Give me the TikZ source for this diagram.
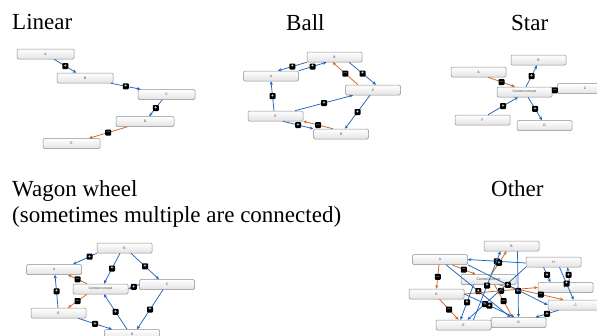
\documentclass[tikz,border=0pt]{standalone}
\usepackage{fontspec}
\setmainfont{Liberation Serif}
\newfontfamily\headfont{Liberation Serif}
\newfontfamily\boxfont{Liberation Sans}
\usetikzlibrary{arrows.meta}
\definecolor{linkblue}{RGB}{30,100,190}
\definecolor{linkorange}{RGB}{205,100,35}
\definecolor{boxedge}{RGB}{140,140,140}
\tikzset{
  concept/.style={draw=boxedge, line width=0.5pt, rounded corners=1.2pt,
    top color=white, bottom color=gray!22, minimum height=10pt,
    minimum width=55pt, inner sep=0pt, text=gray!50!black,
    font=\boxfont\fontsize{3.4}{3.6}\selectfont},
  bw/.style={minimum width=#1},
  bh/.style={minimum height=#1},
  link/.style={line width=0.75pt, -{Stealth[length=3.6pt,width=3.2pt]}},
  poslink/.style={link, draw=linkblue},
  neglink/.style={link, draw=linkorange},
  sign/.style={fill=black, rounded corners=0.9pt, minimum size=6pt,
    inner sep=0pt, text=white, font=\boxfont\bfseries\fontsize{5}{5}\selectfont},
  heading/.style={anchor=base west, inner sep=0pt,
    font=\headfont\fontsize{23}{27}\selectfont}
}
\begin{document}
\begin{tikzpicture}[x=1pt,y=-1pt]
\useasboundingbox (0,0) rectangle (597,335);

% ---------- headings ----------
\node[heading] (tLinear) at (12,29.5) {Linear};
\node[heading] (tBall) at (286,30) {Ball};
\node[heading] (tStar) at (511,30) {Star};
\node[heading] (tWagon) at (12,196) {Wagon wheel};
\node[heading] (tWagon2) at (12,222.5) {(sometimes multiple are connected)};
\node[heading] (tOther) at (491,196) {Other};

% ---------- Linear ----------
\begin{scope}[every node/.append style={bh=10.5pt}]
\node[concept, bw=57pt] (lA) at (45.5,54) {A};
\node[concept, bw=56pt] (lB) at (85,78) {B};
\node[concept, bw=57pt] (lC) at (166.5,94.5) {C};
\node[concept, bw=58pt] (lD) at (145,121.5) {D};
\node[concept, bw=57pt] (lE) at (71.5,143.5) {E};
\end{scope}
\draw[poslink] (lA) -- node[sign]{+} (lB);
\draw[poslink] (lB) -- node[sign]{+} (lC);
\draw[poslink] (lC) -- node[sign]{+} (lD);
\draw[neglink] (lD) -- node[sign]{$-$} (lE);

% ---------- Ball ----------
\node[concept] (bB) at (334.5,57) {B};
\node[concept] (bA) at (271,76) {A};
\node[concept] (bC) at (373,90) {C};
\node[concept] (bE) at (275.5,116) {E};
\node[concept] (bD) at (341,134) {D};
\draw[poslink] (bB.south west) -- node[sign]{+} ([xshift=7pt]bA.north);
\draw[poslink] (bA.north east) -- node[sign]{+} ([xshift=-8pt]bB.south);
\draw[neglink] ([xshift=-15pt]bC.north) -- node[sign]{$-$} ([xshift=-2pt]bB.south);
\draw[poslink] ([xshift=14.5pt]bB.south) -- node[sign]{+} ([xshift=3pt]bC.north);
\draw[poslink] ([xshift=-1.5pt]bE.north) -- node[sign]{+} (bA.south);
\draw[poslink] ([xshift=19.5pt]bE.north) -- node[sign]{+} ([xshift=-20pt]bC.south);
\draw[poslink] ([xshift=-3pt]bC.south) -- node[sign]{+} ([xshift=4pt]bD.north);
\draw[poslink] ([xshift=7.5pt]bE.south) -- node[sign]{+} (bD.north west);
\draw[neglink] ([xshift=-8pt]bD.north) -- node[sign]{$-$} (bE.south east);

% ---------- Star ----------
\begin{scope}[every node/.append style={bh=8pt, bw=45pt}]
\node[concept] (sB) at (538.5,60) {B};
\node[concept] (sA) at (478.5,72) {A};
\node[concept] (sCC) at (524.5,92) {Central concept};
\node[concept] (sC) at (585,88.5) {C};
\node[concept] (sF) at (482.5,120) {F};
\node[concept] (sD) at (544.5,125.5) {D};
\end{scope}
\draw[neglink] ([xshift=9.5pt]sA.south) -- node[sign]{$-$} ([xshift=-9.5pt]sCC.north);
\draw[poslink] ([xshift=1.5pt]sCC.north) -- node[sign]{+} ([xshift=-1.5pt]sB.south);
\draw[neglink] (sCC.east) -- node[sign]{$-$} (sC.west);
\draw[poslink] ([xshift=5.5pt]sF.north) -- node[sign]{+} ([xshift=-6.5pt]sCC.south);
\draw[poslink] ([xshift=3.5pt]sCC.south) -- node[sign]{+} ([xshift=-2.5pt]sD.north);

% ---------- Wagon wheel ----------
\begin{scope}[every node/.append style={bh=10.5pt, bw=59.5pt}]
\node[concept] (wB) at (124.5,248) {B};
\node[concept] (wA) at (54,269.5) {A};
\node[concept] (wCC) at (100.5,289) {Central concept};
\node[concept] (wC) at (167,284.5) {C};
\node[concept] (wE) at (58.5,313) {E};
\node[concept] (wD) at (132,334.5) {D};
\end{scope}
\draw[poslink] (wB.south west) -- node[sign, pos=0.3]{+} ([xshift=19pt]wA.north);
\draw[poslink] ([xshift=-4.5pt]wB.south) -- node[sign]{+} ([xshift=3.5pt]wCC.north);
\draw[poslink] ([xshift=6.5pt]wB.south) -- node[sign]{+} ([xshift=-8pt]wC.north);
\draw[neglink] ([xshift=-13.5pt]wCC.north) -- node[sign]{$-$} ([xshift=14pt]wA.south);
\draw[poslink] (wC.west) -- node[sign]{+} (wCC.east);
\draw[neglink] ([xshift=-13.5pt]wCC.south) -- node[sign]{$-$} ([xshift=9.5pt]wE.north);
\draw[poslink] ([xshift=-0.5pt]wE.north) -- node[sign]{+} ([xshift=1pt]wA.south);
\draw[poslink] ([xshift=-5pt]wD.north) -- node[sign]{+} ([xshift=3.5pt]wCC.south);
\draw[poslink] ([xshift=-4pt]wC.south) -- node[sign]{+} ([xshift=5pt]wD.north);
\draw[poslink] ([xshift=19.5pt]wE.south) -- node[sign]{+} ([xshift=-20pt]wD.north);

% ---------- Other ----------
\begin{scope}[every node/.append style={bh=9.5pt, bw=53pt}]
\node[concept] (oB) at (511.5,246) {B};
\node[concept] (oA) at (440,259.5) {A};
\node[concept] (oH) at (553.5,262) {H};
\node[concept] (oCC) at (488.5,279.5) {Central concept};
\node[concept] (oF) at (565.5,287.5) {F};
\node[concept] (oG) at (436.5,294) {G};
\node[concept] (oC) at (575.5,305) {C};
\node[concept] (oD) at (518.5,322.5) {D};
\node[concept] (oE) at (463.5,325) {E};
\end{scope}
\draw[poslink] ([yshift=-1pt]oH.west) -- node[sign]{+} (oA.east);
\draw[neglink] ([xshift=3pt]oCC.north) -- node[sign]{+} ([xshift=-5pt]oB.south);
\draw[neglink] ([xshift=-1pt]oA.south) -- node[sign]{$-$} (oG.north);
\draw[neglink] ([xshift=12pt]oA.south) -- node[sign]{$-$} ([xshift=-13pt]oCC.north);
\draw[poslink] ([xshift=6pt]oA.south) -- node[sign]{+} ([xshift=-8pt]oD.north);
\draw[neglink] ([xshift=3pt]oG.south) -- node[sign]{$-$} ([xshift=-5pt]oE.north);
\draw[neglink] (oG.east) -- node[sign]{$-$} (oF.west);
\draw[neglink] ([xshift=10pt]oCC.south) -- node[sign, pos=0.65]{$-$} ([xshift=-12pt]oC.north);
\draw[neglink] ([xshift=6pt]oCC.south) -- node[sign]{$-$} ([xshift=-6pt]oD.north);
\draw[poslink] ([xshift=6pt]oB.south) -- node[sign, pos=0.6]{+} (oD.north);
\draw[poslink] ([xshift=-10pt]oH.south) -- node[sign]{+} ([xshift=-15pt]oF.north);
\draw[poslink] ([xshift=4pt]oF.north) -- node[sign]{+} ([xshift=14pt]oH.south);
\draw[poslink] ([xshift=6pt]oH.south) -- node[sign]{+} ([xshift=-2pt]oC.north);
\draw[poslink] ([xshift=-17pt]oC.south) -- node[sign]{+} ([xshift=17pt]oD.north);
\draw[poslink] ([xshift=-15pt]oCC.south) -- node[sign]{+} ([xshift=-3pt]oE.north);
\draw[poslink] (oH.south west) -- node[sign, pos=0.7]{+} ([xshift=4pt]oE.north);
\draw[poslink] ([xshift=10pt]oE.north) -- node[sign]{+} ([xshift=-11pt]oB.south);
\draw[poslink] (oG.east) -- node[sign]{+} ([xshift=-4pt]oD.north);
\draw[poslink] (oA.south east) -- node[sign]{+} (oC.west);
\end{tikzpicture}
\end{document}
